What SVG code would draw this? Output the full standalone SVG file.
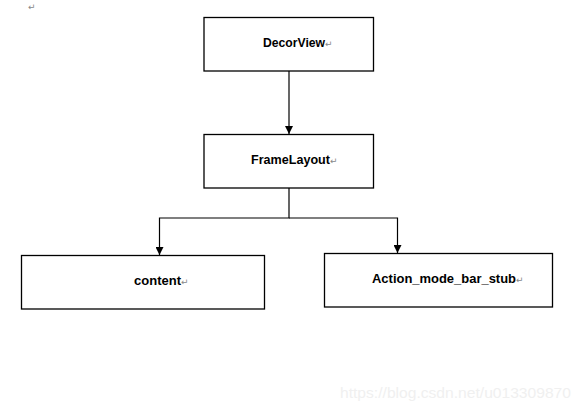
<svg xmlns="http://www.w3.org/2000/svg" width="581" height="412" viewBox="0 0 581 412">
<style>
.box{fill:#fff;stroke:#000;stroke-width:1.3}
.lbl{font-family:"Liberation Sans",Arial,sans-serif;font-weight:bold;font-size:12px;fill:#000}
.mark{font-family:"DejaVu Sans",sans-serif;font-size:9px;fill:#888;font-weight:normal}
.wire{fill:none;stroke:#000;stroke-width:1.2}
.wm{font-family:"Liberation Sans",Arial,sans-serif;font-size:15.5px;fill:#f0f0f0}
</style>
<defs>
<marker id="arr" markerWidth="8" markerHeight="8" refX="8" refY="4" orient="auto" markerUnits="userSpaceOnUse">
<path d="M0,0 L8,4 L0,8 Z" fill="#000"/>
</marker>
</defs>
<rect width="581" height="412" fill="#fff"/>
<text class="mark" x="28" y="10">↵</text>
<g id="connectors">
<path class="wire" d="M289,71 V134" marker-end="url(#arr)"/>
<path class="wire" d="M289,188 V218 H159.5 V255" marker-end="url(#arr)"/>
<path class="wire" d="M289,218 H397.5 V253" marker-end="url(#arr)"/>
</g>
<g id="decorview">
<rect class="box" x="204" y="17.5" width="169.5" height="53.5"/>
<text class="lbl" x="263" y="47" textLength="62" lengthAdjust="spacingAndGlyphs">DecorView</text>
<text class="mark" x="325" y="47">↵</text>
</g>
<g id="framelayout">
<rect class="box" x="204" y="134.5" width="169.5" height="53.5"/>
<text class="lbl" x="251" y="164" textLength="79" lengthAdjust="spacingAndGlyphs">FrameLayout</text>
<text class="mark" x="330" y="164">↵</text>
</g>
<g id="content">
<rect class="box" x="21.5" y="255.5" width="243" height="53.5"/>
<text class="lbl" x="134" y="285" textLength="47" lengthAdjust="spacingAndGlyphs">content</text>
<text class="mark" x="181" y="285">↵</text>
</g>
<g id="action_mode_bar_stub">
<rect class="box" x="324.5" y="253.5" width="228" height="53.5"/>
<text class="lbl" x="372" y="283" textLength="144" lengthAdjust="spacingAndGlyphs">Action_mode_bar_stub</text>
<text class="mark" x="516" y="283">↵</text>
</g>
<text class="wm" x="340" y="398" textLength="231" lengthAdjust="spacingAndGlyphs">https://blog.csdn.net/u013309870</text>
</svg>
